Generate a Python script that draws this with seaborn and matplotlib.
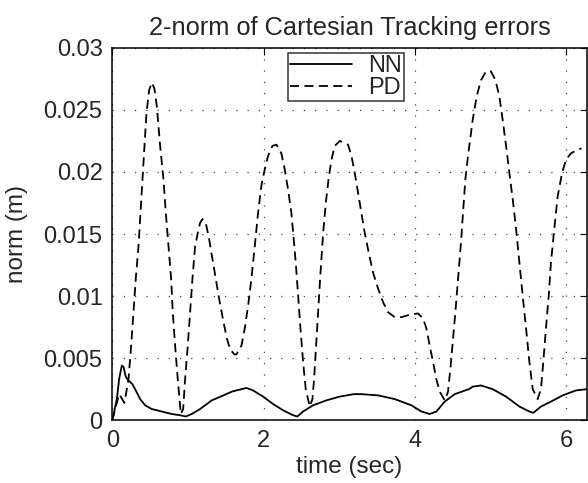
import numpy as np
import pandas as pd
import matplotlib
matplotlib.use("Agg")
import matplotlib.pyplot as plt
import seaborn as sns

# NN 오차 곡선
nn_t = [0, 0.06, 0.09, 0.125, 0.148, 0.178, 0.214, 0.266, 0.31, 0.368, 0.434,
        0.522, 0.654, 0.786, 0.896, 0.971, 1.05, 1.16, 1.314, 1.468, 1.578,
        1.64, 1.772, 1.86, 1.993, 2.125, 2.257, 2.388, 2.446, 2.52, 2.652,
        2.829, 3.005, 3.19, 3.292, 3.512, 3.732, 3.952, 4.085, 4.194, 4.282,
        4.392, 4.525, 4.71, 4.762, 4.872, 5.026, 5.203, 5.379, 5.511, 5.564,
        5.664, 5.796, 5.951, 6.127, 6.268]
nn_err = [0, 0.0017, 0.0033, 0.0044, 0.0043, 0.0035, 0.0032, 0.0029, 0.0024,
          0.0017, 0.0012, 0.0009, 0.0007, 0.0005, 0.0004, 0.0003, 0.0005,
          0.0009, 0.0016, 0.0020, 0.0023, 0.0024, 0.0026, 0.0024, 0.0019,
          0.0013, 0.0008, 0.0004, 0.0003, 0.0007, 0.0012, 0.0016, 0.0019,
          0.0021, 0.0021, 0.0020, 0.0017, 0.0012, 0.0007, 0.0005, 0.0007,
          0.0015, 0.0021, 0.0025, 0.0027, 0.0028, 0.0025, 0.0019, 0.0011,
          0.0007, 0.0006, 0.0011, 0.0015, 0.0020, 0.0024, 0.0025]

# PD 오차 곡선
pd_t = [0, 0.09, 0.161, 0.214, 0.249, 0.28, 0.31, 0.346, 0.372, 0.398, 0.425,
        0.451, 0.487, 0.522, 0.557, 0.588, 0.632, 0.676, 0.707, 0.742, 0.777,
        0.799, 0.83, 0.865, 0.905, 0.936, 0.962, 0.997, 1.028, 1.059, 1.094,
        1.13, 1.16, 1.191, 1.235, 1.279, 1.323, 1.367, 1.411, 1.46, 1.513,
        1.557, 1.614, 1.64, 1.706, 1.75, 1.794, 1.838, 1.882, 1.926, 1.97,
        2.014, 2.058, 2.116, 2.168, 2.234, 2.278, 2.322, 2.366, 2.397, 2.424,
        2.455, 2.486, 2.521, 2.556, 2.609, 2.644, 2.666, 2.688, 2.719, 2.751,
        2.786, 2.821, 2.857, 2.896, 2.94, 3.006, 3.072, 3.115, 3.16, 3.204,
        3.248, 3.292, 3.335, 3.388, 3.445, 3.512, 3.578, 3.644, 3.732, 3.82,
        3.93, 4.04, 4.106, 4.15, 4.194, 4.238, 4.282, 4.326, 4.392, 4.436,
        4.471, 4.502, 4.533, 4.568, 4.603, 4.634, 4.665, 4.7, 4.762, 4.815,
        4.872, 4.938, 5.004, 5.062, 5.114, 5.158, 5.203, 5.247, 5.291, 5.335,
        5.379, 5.423, 5.467, 5.511, 5.555, 5.62, 5.664, 5.695, 5.73, 5.766,
        5.796, 5.84, 5.884, 5.942, 5.995, 6.061, 6.149, 6.2]
pd_err = [0, 0.0021, 0.0014, 0.0033, 0.0060, 0.0087, 0.0114, 0.0140, 0.0167,
          0.0194, 0.0221, 0.0247, 0.0266, 0.0272, 0.0267, 0.0253, 0.0221,
          0.0194, 0.0167, 0.0140, 0.0114, 0.0087, 0.0060, 0.0033, 0.0005,
          0.0009, 0.0033, 0.0060, 0.0087, 0.0114, 0.0140, 0.0151, 0.0159,
          0.0162, 0.0159, 0.0146, 0.0130, 0.0114, 0.0098, 0.0082, 0.0066,
          0.0057, 0.0053, 0.0053, 0.0060, 0.0074, 0.0092, 0.0114, 0.0140,
          0.0167, 0.0189, 0.0202, 0.0213, 0.0221, 0.0222, 0.0215, 0.0202,
          0.0186, 0.0167, 0.0146, 0.0127, 0.0100, 0.0074, 0.0047, 0.0025,
          0.0011, 0.0017, 0.0033, 0.0055, 0.0087, 0.0119, 0.0151, 0.0175,
          0.0194, 0.0210, 0.0221, 0.0225, 0.0223, 0.0222, 0.0213, 0.0199,
          0.0183, 0.0167, 0.0151, 0.0135, 0.0119, 0.0106, 0.0095, 0.0087,
          0.0083, 0.0083, 0.0085, 0.0086, 0.0082, 0.0074, 0.0060, 0.0047,
          0.0033, 0.0023, 0.0016, 0.0023, 0.0044, 0.0066, 0.0087, 0.0114,
          0.0140, 0.0167, 0.0194, 0.0213, 0.0242, 0.0261, 0.0274, 0.0281,
          0.0281, 0.0274, 0.0261, 0.0242, 0.0221, 0.0199, 0.0178, 0.0154,
          0.0127, 0.0100, 0.0074, 0.0047, 0.0025, 0.0017, 0.0025, 0.0047,
          0.0074, 0.0100, 0.0127, 0.0154, 0.0180, 0.0199, 0.0210, 0.0215,
          0.0218, 0.0219]

y_ticks = [0, 0.005, 0.01, 0.015, 0.02, 0.025, 0.03]
y_labels = ["0", "0.005", "0.01", "0.015", "0.02", "0.025", "0.03"]
x_ticks = [0, 2, 4, 6]

sns.set_style("white")
plt.rcParams['font.family'] = ['Liberation Sans', 'DejaVu Sans']

fig = plt.figure(figsize=(5.88, 4.83), dpi=100)
ax = fig.add_axes([0.191, 0.130, 0.807, 0.771])

nn_df = pd.DataFrame({'t': nn_t, 'err': nn_err})
pd_df = pd.DataFrame({'t': pd_t, 'err': pd_err})
sns.lineplot(data=nn_df, x='t', y='err', color='black', linewidth=1.3,
             label='NN', ax=ax, sort=False)
sns.lineplot(data=pd_df, x='t', y='err', color='black', linewidth=1.3,
             linestyle=(0, (5, 3)), label='PD', ax=ax, sort=False)

ax.set_xlim(0, 6.27)
ax.set_ylim(0, 0.03)
ax.set_xticks(x_ticks)
ax.set_yticks(y_ticks)
ax.set_yticklabels(y_labels)
ax.tick_params(direction='in', top=True, right=True, length=5, labelsize=17,
               width=0.8, color='black', pad=7)
ax.grid(True, linestyle=(0, (1, 8)), color='#444444', linewidth=0.9)
for s in ax.spines.values():
    s.set_color('black')
    s.set_linewidth(1.1)

ax.set_title('2-norm of Cartesian Tracking errors', fontsize=18.3, pad=9)
ax.set_xlabel('time (sec)', fontsize=17.5, labelpad=3)
ax.set_ylabel('norm (m)', fontsize=17.5)
ax.yaxis.set_label_coords(-0.178, 0.5)

leg = ax.legend(loc='upper left', bbox_to_anchor=(0.37, 0.987), fontsize=17,
                frameon=True, fancybox=False, handlelength=2.6,
                borderpad=0.1, labelspacing=0.0, handletextpad=0.7,
                borderaxespad=0)
leg.get_frame().set_edgecolor('black')
leg.get_frame().set_linewidth(1.1)

fig.savefig('out.png', dpi=100)
